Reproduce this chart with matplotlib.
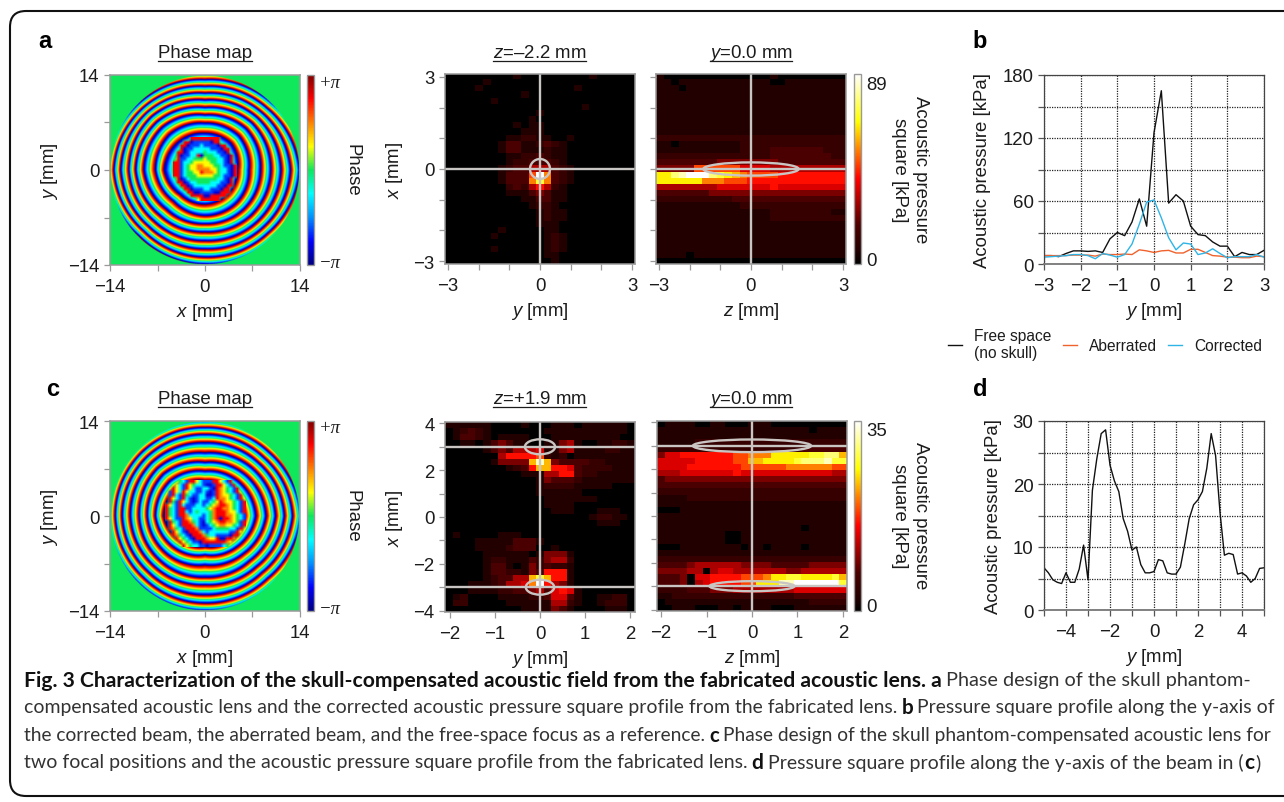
import numpy as np
import matplotlib
matplotlib.use("Agg")
import matplotlib.pyplot as plt
from matplotlib.colors import LinearSegmentedColormap, Normalize
from matplotlib.lines import Line2D
from matplotlib.patches import Ellipse, FancyBboxPatch
from matplotlib.transforms import IdentityTransform

plt.rcParams["font.family"] = ["Liberation Sans", "DejaVu Sans"]
plt.rcParams["mathtext.fontset"] = "custom"
plt.rcParams["mathtext.rm"] = "Liberation Sans"
plt.rcParams["mathtext.it"] = "Liberation Sans:italic"

W, H = 1284, 803
FS = 13.4
INK = "#1c1c1c"
FRAME = "#9a9a9a"
OVERLAY = "#c9c5c3"

# ------------------------------------------------------------------ line profiles
B_Y = [-3.0, -2.8, -2.6, -2.4, -2.2, -2.0, -1.8, -1.6, -1.4, -1.2, -1.0, -0.8, -0.6, -0.4, -0.2, 0.0,
       0.2, 0.4, 0.6, 0.8, 1.0, 1.2, 1.4, 1.6, 1.8, 2.0, 2.2, 2.4, 2.6, 2.8, 3.0]
B_FREE = [8, 8, 7, 10, 12.5, 12.5, 12, 12.5, 11, 24, 30, 27, 40, 62, 36, 125,
          165, 58, 66, 60, 36, 28, 27, 21, 17, 17, 7, 11, 9, 9, 13]
B_ABERRATED = [8, 8, 8, 8, 8.5, 8.5, 8.5, 7.5, 9.5, 9, 9, 9.5, 9, 13.5, 12.5, 11,
               12.5, 13, 10.5, 10.5, 14, 14, 11, 8, 7.5, 6.5, 6.5, 6, 6, 7.5, 7]
B_CORRECTED = [6.5, 7, 7.5, 8, 9, 9, 8, 5, 10, 8.5, 6.5, 9, 19, 38, 59, 61,
               44, 25, 13.5, 20, 19, 9, 10.5, 14.5, 10, 6, 7, 7, 7, 9, 6.5]

D_Y = [-5.0, -4.8, -4.6, -4.4, -4.2, -4.0, -3.8, -3.6, -3.4, -3.2, -3.0, -2.8, -2.6, -2.4, -2.2, -2.0,
       -1.8, -1.6, -1.4, -1.2, -1.0, -0.8, -0.6, -0.4, -0.2, 0.0, 0.2, 0.4, 0.6, 0.8, 1.0, 1.2, 1.4,
       1.6, 1.8, 2.0, 2.2, 2.4, 2.6, 2.8, 3.0, 3.2, 3.4, 3.6, 3.8, 4.0, 4.2, 4.4, 4.6, 4.8, 5.0]
D_P = [6.7, 5.9, 4.8, 4.4, 4.2, 5.9, 4.4, 4.4, 6.5, 10.3, 4.8, 19, 24, 28, 28.6, 23,
       20.5, 18.8, 14.5, 12.5, 9.5, 10, 7.2, 5.9, 5.9, 6.1, 8, 7.8, 5.9, 5.7, 5.7, 6.8, 10.5,
       14.5, 16.7, 17.5, 18.8, 22.5, 28, 24.5, 15.5, 8.7, 9, 8.8, 5.7, 5.9, 5.4, 4.4, 5, 6.6, 6.7]

# ------------------------------------------------------------------ pressure maps, one hex digit per cell
HEAT_A_MID = [
    "00000 00001 00000 00001 00000", "00000 10000 00000 00000 00000", "00001 00000 00000 00100 00000",
    "00000 00000 10000 00000 00000", "00000 01000 00000 00000 00000", "00000 00000 00000 00010 00000",
    "00000 00000 00100 00000 00000", "00000 00000 01000 00000 00000", "00000 00001 01100 00000 00000",
    "00000 00000 11100 00000 00000", "00000 00011 22110 01000 00000", "00000 00133 11232 10000 00000",
    "00000 00133 11121 10000 00000", "00000 00011 22321 10000 00000", "00000 00012 23332 10000 00000",
    "00000 00123 35553 21000 00000", "00000 00133 38f93 21000 00000", "00000 00133 39c93 21000 00000",
    "00000 00023 25752 10000 00000", "00000 00011 13431 10000 00000", "00000 00000 11331 10000 00000",
    "00000 00000 01221 00000 00000", "00000 00000 00121 10000 00000", "00000 00000 00121 10000 00000",
    "00000 00000 00111 00000 00000", "00000 00100 00011 00000 00000", "00000 01000 00012 10000 00000",
    "00000 00000 00012 10000 00000", "00000 01000 00012 10000 00000", "00000 00000 00011 00000 00000",
    "00000 00000 00001 00000 00000",
]
HEAT_A_RIGHT = [
    "10000 00000 00000 10000 00000", "11011 11111 11111 00111 11111", "11101 11111 11111 11111 11111",
    "11111 11111 11111 11111 11111", "11111 11111 11111 11111 11111", "11111 11111 11111 11111 11111",
    "11111 11111 11111 11111 11111", "11111 11111 11111 11111 11111", "11111 11111 11111 11111 11111",
    "11111 11111 11111 11111 11111", "22222 22222 22222 22222 22222", "11011 11111 12222 22222 22222",
    "11111 11111 12222 33333 33222", "22222 22222 22222 33333 33322", "33333 33344 44444 43333 33333",
    "44444 88888 86666 55555 55555", "bbdef ffdcb a9888 87777 77777", "bbbbb b9998 88777 77777 77777",
    "55555 55566 66666 76666 66666", "33333 33444 44444 44444 44444", "22222 22222 33333 33333 33333",
    "11111 11111 12222 22222 22222", "11111 11111 11111 22222 22211", "11111 11111 11111 22222 22222",
    "11111 11111 11111 11111 11111", "11111 11111 11111 11111 11111", "11111 11111 11111 11111 11111",
    "11111 11111 11111 11111 11111", "11111 11111 11111 11111 11111", "11110 11111 11111 11111 11111",
    "00000 00000 00000 00000 00000",
]
HEAT_C_MID = [
    "11111 10000 10001 11011 11110", "01232 10000 00011 11111 11110", "01332 10111 10001 11111 11100",
    "00110 13431 10011 45100 11221", "00000 13435 55611 45111 12211", "00000 00577 77821 20111 11111",
    "00000 01444 4aea4 33332 21111", "00000 00012 37aa7 76322 22111", "00000 00000 11155 77322 11111",
    "00000 00000 00143 33211 11111", "00000 00000 00122 22111 11000", "00000 00000 00111 11100 00000",
    "00000 00000 00011 11111 00000", "00000 00000 00011 11000 00000", "00000 00000 00001 11000 11100",
    "00000 00000 00000 00001 22110", "00000 00000 00000 00000 11100", "00000 00000 00000 00000 00000",
    "01000 00111 00000 00000 00000", "00001 11113 33100 00000 00000", "00001 11123 33001 00000 00000",
    "00000 11111 10144 41000 00000", "00000 12211 13245 52000 00000", "00000 13310 14232 21000 00000",
    "00000 13322 14377 71000 00000", "00000 12335 5aca7 71000 00000", "00011 12355 69f75 41000 00000",
    "00011 11223 34536 76100 00000", "01200 00111 12236 63100 11220", "02200 00011 11115 52100 12220",
    "00000 00000 11114 31000 01110",
]
HEAT_C_RIGHT = [
    "01111 00110 00111 00000 00000", "11111 11111 11111 11111 01111", "11111 11111 11111 11111 11111",
    "11111 22222 22222 22222 22222", "22222 22222 22222 22223 33333", "46677 77777 88999 bbbbb ccdda",
    "66666 77777 88aab bbbcd ddecc", "66667 77777 78888 88999 99988", "55566 66666 76666 66666 66655",
    "34444 44444 44444 44444 44444", "33333 33333 33333 33333 33333", "22222 22222 22222 22222 22222",
    "11112 22222 22222 22222 22222", "11111 11111 11111 11111 11111", "00011 11111 11111 11111 11111",
    "11111 11111 11111 11111 11111", "11111 11111 11111 11111 11111", "11111 11111 11111 11110 11111",
    "11111 11110 01111 11111 11111", "11111 11110 01111 11111 11111", "00011 11111 10110 11110 11111",
    "11111 11111 11111 11111 11111", "22222 22222 22222 22222 22222", "33334 55555 54444 33333 44444",
    "44445 50566 55555 55445 55555", "33340 66777 78889 bbccb bbbca", "33340 56777 788bb beeff ffffc",
    "22223 33444 55555 55566 66666", "11222 22222 22222 22233 33333", "01111 11111 11111 11111 22222",
    "00111 00011 01111 00011 11111",
]

# ------------------------------------------------------------------ phase maps: radius [mm] of each blue/red
# boundary, read along eight directions (E, NE, N, NW, W, SW, S, SE)
RINGS_A_E = [2.7, 4.9, 6.6, 8.3, 9.8, 11.3, 12.7, 14.0, 15.3, 16.6]
RINGS_A_NE = [3.2, 5.6, 7.2, 8.7, 9.9, 11.0, 12.0, 13.0, 14.0, 15.0]
RINGS_A_N = [3.8, 5.5, 7.0, 8.2, 9.3, 10.4, 11.4, 12.4, 13.4, 14.4]
RINGS_A_NW = [3.6, 5.8, 7.5, 9.0, 10.1, 11.2, 12.1, 13.0, 13.9, 14.8]
RINGS_A_W = [3.4, 6.1, 7.4, 9.1, 10.3, 11.3, 12.5, 13.5, 14.5, 15.5]
RINGS_A_SW = [3.2, 5.2, 6.6, 8.2, 9.5, 10.7, 11.8, 12.8, 13.8, 14.8]
RINGS_A_S = [3.6, 5.1, 6.8, 8.0, 9.2, 10.5, 11.7, 12.9, 13.9, 14.9]
RINGS_A_SE = [3.2, 5.0, 6.8, 8.2, 9.6, 10.9, 12.1, 13.2, 14.3, 15.4]

RINGS_C_E = [5.9, 7.6, 9.1, 10.5, 11.8, 13.0, 14.2, 15.4]
RINGS_C_NE = [5.6, 7.2, 8.6, 10.0, 11.2, 12.3, 13.4, 14.5]
RINGS_C_N = [5.3, 6.7, 8.0, 9.4, 10.9, 12.1, 13.1, 14.1]
RINGS_C_NW = [6.0, 7.4, 8.8, 10.0, 11.2, 12.3, 13.3, 14.3]
RINGS_C_W = [6.2, 7.4, 8.6, 9.8, 11.1, 12.3, 13.3, 14.3]
RINGS_C_SW = [5.2, 6.6, 8.0, 9.4, 10.6, 11.8, 12.9, 14.0]
RINGS_C_S = [4.6, 5.8, 7.3, 9.1, 10.2, 11.7, 12.9, 14.0]
RINGS_C_SE = [5.2, 6.6, 8.0, 9.4, 10.7, 11.9, 13.1, 14.3]

# irregular centres of the phase maps, about 0.5 mm cells; "." leaves the ring pattern visible
CORE_A = [
    ".....RRRRRRRRR.....",
    "...RRDBBBBBDRR.....",
    "..RRDBBBCBBBBDRR...",
    "..RDBBCCCCCBBBDRR..",
    ".RRDBCCCCGCCCBBDR..",
    ".RDBBCCRDGGGCCBBDR.",
    ".RBBCCGGGYGGGCCBDR.",
    "RRBCCGYYYYYGGCCBDR.",
    "RRBCGYYOOYYYGGCBBDR",
    "RRBCGYYOOOOYYGCCBDR",
    "RRBCGGYYROOOYGCCBDR",
    "RRBCGGGYYYYYGGCBBDR",
    ".RDBCGGGGGGGGCCBDR.",
    ".RRDBCCGGGGCCCBBDR.",
    "..RRDBCCCCCCCBBDRR.",
    "...RRDBBBCCBBBDRR..",
    "....RRDDBBBBDDRRR..",
    ".....RRRRDDRRRRR...",
    ".......YRRRRRR.....",
]
CORE_C = [
    "....GCBRRYCBBBRRYCBR....",
    "...YCBRYGCCBDDBRRYCBR...",
    "..RYCBRYCBBCCBDROYGCBR..",
    ".BRYCRYCCBBCBDBROYGCBR..",
    ".BRCBRGCBBCCDDBROYYGCBR.",
    ".RYCBRCBDBCCBBCROOYGCBR.",
    ".RGBRYCBDBCBBCGYROYYGCBR",
    "RYCBRCBBBCCBCGYORROYGCBR",
    "RGCBRRBBCCCCGYORROOYGCBR",
    "RGCBRRCBCGCCCGORRROYYCBR",
    "RGCBRROCCCCBCGORRROOYGCB",
    "RYCBBROYCCBBCGORDRROYGCB",
    ".RGCBRROGCBDCGYORROOYGBR",
    ".RYCBRRROCBDBCGYOOYYGCBR",
    ".ROGCBRRROBBBBCGGGGCCBR.",
    "..RYCBDRRROCBCCCCCCBBRY.",
    "..ROGCBDRRROGCCBBBBDRR..",
    "...RYGCBDRRROYYRDDRRO...",
    "....RYGCBBDRRRRRRROY....",
    ".....RYGCCBBDBBBBCG.....",
]
CORE_PHASE = {"R": 2.36, "O": 1.57, "Y": 0.79, "G": 0.0, "C": -0.79, "B": -2.0, "D": -2.6}

CAPTION = [
    [("Fig. 3 Characterization of the skull-compensated acoustic field from the fabricated acoustic lens. a", True),
     ("Phase design of the skull phantom-", False)],
    [("compensated acoustic lens and the corrected acoustic pressure square profile from the fabricated lens.", False),
     ("b", True), ("Pressure square profile along the y-axis of", False)],
    [("the corrected beam, the aberrated beam, and the free-space focus as a reference.", False), ("c", True),
     ("Phase design of the skull phantom-compensated acoustic lens for", False)],
    [("two focal positions and the acoustic pressure square profile from the fabricated lens.", False), ("d", True),
     ("Pressure square profile along the y-axis of the beam in (", False), ("c", True), (")", False)],
]
CAPTION_Y = [681, 708, 736, 763]
CAPTION_END = [1253, 1279, 1279, 1264]

HEAT_CMAP = LinearSegmentedColormap.from_list(
    "heat", [(0, "#000000"), (0.07, "#240000"), (0.2, "#4a0000"), (0.45, "#ff0000"), (0.75, "#ffff00"), (1, "#ffffff")])
PHASE_CMAP = LinearSegmentedColormap.from_list(
    "phase", ["#00007f", "#0000ff", "#0090ff", "#00ffff", "#0ce85c", "#ffff00", "#ff8000", "#ff0000", "#7f0000"])
PHASE_NORM = Normalize(-np.pi, np.pi)

fig = plt.figure(figsize=(W / 100, H / 100), dpi=100, facecolor="white")


def add_axes(x0, y0, x1, y1):
    # pixel box, y measured from the top as in the reference
    return fig.add_axes([x0 / W, 1 - y1 / H, (x1 - x0) / W, (y1 - y0) / H])


def put(x, y, s, **kw):
    kw.setdefault("fontsize", FS)
    kw.setdefault("color", INK)
    kw.setdefault("ha", "center")
    kw.setdefault("va", "center")
    return fig.text(x / W, 1 - y / H, s, **kw)


def title(cx, y, s, x0, x1):
    put(cx, y, s)
    fig.add_artist(Line2D([x0 / W, x1 / W], [1 - (y + 8) / H] * 2, color=INK, lw=0.9))


def style_map(ax, xticks, xlabels, yticks, ylabels):
    ax.set_xticks(xticks, xlabels)
    ax.set_yticks(yticks, ylabels)
    ax.tick_params(length=4.5, width=0.9, color=FRAME, labelsize=FS, labelcolor=INK, pad=3)
    ax.tick_params(axis="x", pad=5)
    for sp in ax.spines.values():
        sp.set_color(FRAME)
        sp.set_linewidth(1.1)


def colorbar(x0, y0, x1, y1, cmap, norm):
    cax = add_axes(x0, y0, x1, y1)
    sm = plt.cm.ScalarMappable(norm=norm, cmap=cmap)
    cb = fig.colorbar(sm, cax=cax)
    cb.set_ticks([])
    cb.outline.set_edgecolor(FRAME)
    cb.outline.set_linewidth(1.0)


def phase_field(ring_dirs, size=760):
    radii = np.array(ring_dirs, dtype=float)
    angles = np.arange(8) * np.pi / 4
    lin = np.linspace(-14, 14, size)
    xx, yy = np.meshgrid(lin, lin[::-1])
    r = np.hypot(xx, yy)
    th = np.mod(np.arctan2(yy, xx), 2 * np.pi)
    bounds = [np.interp(th, angles, radii[:, k], period=2 * np.pi) for k in range(radii.shape[1])]
    phase = np.zeros_like(r)
    inner = r < bounds[0]
    phase[inner] = 0.6 - (0.6 + np.pi) * r[inner] / bounds[0][inner]
    for lo, hi in zip(bounds[:-1], bounds[1:]):
        band = (r >= lo) & (r < hi)
        phase[band] = np.pi - 2 * np.pi * (r[band] - lo[band]) / (hi[band] - lo[band])
    phase[r > 13.9] = 0.0
    return phase


def phase_panel(x0, y0, ring_dirs, core, core_extent):
    ax = add_axes(x0, y0, x0 + 190, y0 + 190)
    ax.imshow(phase_field(ring_dirs), extent=(-14, 14, -14, 14), cmap=PHASE_CMAP, norm=PHASE_NORM,
              interpolation="bilinear", interpolation_stage="rgba", aspect="auto")
    vals = np.array([[CORE_PHASE.get(c, 0.0) for c in row] for row in core])
    rgba = PHASE_CMAP(PHASE_NORM(vals))
    rgba[..., 3] = [[0.0 if c == "." else 1.0 for c in row] for row in core]
    ax.imshow(rgba, extent=core_extent, interpolation="bilinear", interpolation_stage="rgba", aspect="auto")
    ax.set_xlim(-14, 14)
    ax.set_ylim(-14, 14)
    style_map(ax, [-14, -7, 0, 7, 14], ["\u221214", "", "0", "", "14"],
              [-14, -7, 0, 7, 14], ["\u221214", "", "0", "", "14"])
    ax.set_xlabel(r"$x$ [mm]", fontsize=FS, color=INK, labelpad=4.5)
    ax.set_ylabel(r"$y$ [mm]", fontsize=FS, color=INK, labelpad=6)
    colorbar(x0 + 197, y0, x0 + 204, y0 + 190, PHASE_CMAP, PHASE_NORM)
    pi_font = dict(family="Liberation Serif", style="italic", ha="left", fontsize=FS)
    put(x0 + 209, y0 + 7, "+\u03c0", **pi_font)
    put(x0 + 209, y0 + 187, "\u2212\u03c0", **pi_font)
    put(x0 + 242, y0 + 94, "Phase", rotation=-90)
    return ax


def heat_panel(box, rows, xlim, ylim, xticks, xlabels, yticks, ylabels, xlabel, ylabel=None):
    ax = add_axes(*box)
    grid = np.array([[int(c, 16) for c in row.replace(" ", "")] for row in rows]) / 15.0
    ax.imshow(grid, extent=(*xlim, *ylim), cmap=HEAT_CMAP, vmin=0, vmax=1,
              interpolation="nearest", aspect="auto")
    style_map(ax, xticks, xlabels, yticks, ylabels)
    ax.set_xlabel(xlabel, fontsize=FS, color=INK, labelpad=4.5)
    if ylabel:
        ax.set_ylabel(ylabel, fontsize=FS, color=INK, labelpad=6)
    return ax


def overlay(ax, hlines, ellipses):
    ax.axvline(0, color=OVERLAY, lw=1.7)
    for y in hlines:
        ax.axhline(y, color=OVERLAY, lw=1.7)
    for cy, w, h in ellipses:
        ax.add_patch(Ellipse((0, cy), w, h, fill=False, edgecolor=OVERLAY, lw=1.7))


def profile_axes(box, xlim, ylim, xticks, xlabels, ygrid, ylabels):
    ax = add_axes(*box)
    ax.set_xlim(*xlim)
    ax.set_ylim(*ylim)
    ax.set_xticks(xticks, xlabels)
    ax.set_yticks(ygrid, ylabels)
    ax.grid(True, color="#222222", ls=(0, (1, 1)), lw=0.9)
    ax.set_axisbelow(True)
    ax.tick_params(length=4.5, width=0.9, color="#555555", labelsize=FS, labelcolor=INK, pad=3)
    ax.tick_params(axis="x", pad=5)
    for sp in ax.spines.values():
        sp.set_color("#444444")
        sp.set_linewidth(0.9)
    ax.spines["bottom"].set_color("#777777")
    ax.spines["bottom"].set_linewidth(1.3)
    ax.set_xlabel(r"$y$ [mm]", fontsize=FS, color=INK, labelpad=4.5)
    ax.set_ylabel("Acoustic pressure [kPa]", fontsize=FS, color=INK, labelpad=8)
    return ax


def caption_line(y, runs, scale):
    renderer = fig.canvas.get_renderer()
    x = 24
    placed = []
    for i, (s, bold) in enumerate(runs):
        t = put(x, y, s, ha="left", family="Lato", fontsize=(15.0 if bold else 14.1) * scale,
                fontweight="bold" if bold else "normal", color="#111111" if bold else "#333333")
        placed.append(t)
        tight = s.endswith("(") or (i + 1 < len(runs) and runs[i + 1][0] == ")")
        x = t.get_window_extent(renderer).x1 + (1 if tight else 4)
    return placed, x


def caption():
    # first pass measures the line, second pass sizes it to end where the reference line ends
    for y, runs, end in zip(CAPTION_Y, CAPTION, CAPTION_END):
        placed, x = caption_line(y, runs, 1.0)
        for t in placed:
            t.remove()
        caption_line(y, runs, (end - 24) / (x - 4 - 24))


# ------------------------------------------------------------------ page
fig.add_artist(FancyBboxPatch((10, 6), 1320, 785, boxstyle="round,pad=0,rounding_size=16",
                              transform=IdentityTransform(), fill=False, edgecolor="#111111", lw=1.5))
for x, y, s in [(45, 42, "a"), (980, 41, "b"), (53, 390, "c"), (980, 390, "d")]:
    put(x, y, s, fontsize=17, fontweight="bold", color="black")

# a
phase_panel(110, 76, [RINGS_A_E, RINGS_A_NE, RINGS_A_N, RINGS_A_NW, RINGS_A_W, RINGS_A_SW, RINGS_A_S, RINGS_A_SE],
            CORE_A, (-4.67, 4.67, -4.5, 4.9))
title(205, 54, "Phase map", 158, 252)
lab3 = ["\u22123", "", "", "0", "", "", "3"]
ticks3 = list(range(-3, 4))
ax = heat_panel((445, 75, 635, 265), HEAT_A_MID, (-3.09, 3.09), (-3.09, 3.09), ticks3, lab3, ticks3, lab3,
                r"$y$ [mm]", r"$x$ [mm]")
overlay(ax, [0], [(0, 0.65, 0.65)])
title(540, 54, "$z$=\u20132.2 mm", 493, 586)
ax = heat_panel((656, 75, 846, 265), HEAT_A_RIGHT, (-3.09, 3.09), (-3.09, 3.09), ticks3, lab3, ticks3, [""] * 7,
                r"$z$ [mm]")
overlay(ax, [0], [(0, 3.1, 0.43)])
title(751, 54, r"$y$=0.0 mm", 710, 792)
colorbar(854, 75, 861, 265, HEAT_CMAP, Normalize(0, 1))
put(866, 86, "89", ha="left")
put(866, 262, "0", ha="left")
put(910, 170, "Acoustic pressure\nsquare [kPa]", rotation=-90, linespacing=1.25)

# b
ax = profile_axes((1044, 76, 1264, 265), (-3, 3), (0, 180), [-3, -2, -1, 0, 1, 2, 3],
                  ["\u22123", "\u22122", "\u22121", "0", "1", "2", "3"],
                  [0, 30, 60, 90, 120, 150, 180], ["0", "", "60", "", "120", "", "180"])
h1, = ax.plot(B_Y, B_FREE, color="#111111", lw=1.0, label="Free space\n(no skull)")
h2, = ax.plot(B_Y, B_ABERRATED, color="#f0622d", lw=1.0, label="Aberrated")
h3, = ax.plot(B_Y, B_CORRECTED, color="#2fb4e6", lw=1.0, label="Corrected")
fig.legend(handles=[h1, h2, h3], loc="center", bbox_to_anchor=(1105 / W, 1 - 345 / H), ncol=3, frameon=False,
           fontsize=11.2, handlelength=0.9, handletextpad=0.8, columnspacing=0.7, labelcolor=INK)

# c
phase_panel(110, 422, [RINGS_C_E, RINGS_C_NE, RINGS_C_N, RINGS_C_NW, RINGS_C_W, RINGS_C_SW, RINGS_C_S, RINGS_C_SE],
            CORE_C, (-5.9, 5.9, -4.6, 5.2))
title(205, 400, "Phase map", 158, 252)
lab2 = ["\u22122", "\u22121", "0", "1", "2"]
lab4 = ["\u22124", "", "\u22122", "", "0", "", "2", "", "4"]
ax = heat_panel((445, 423, 635, 613), HEAT_C_MID, (-2.11, 2.11), (-4.06, 4.06), [-2, -1, 0, 1, 2], lab2,
                list(range(-4, 5)), lab4, r"$y$ [mm]", r"$x$ [mm]")
overlay(ax, [3, -3], [(3, 0.67, 0.64), (-3, 0.63, 0.64)])
title(540, 400, "$z$=+1.9 mm", 493, 586)
ax = heat_panel((657, 422, 847, 612), HEAT_C_RIGHT, (-2.09, 2.09), (-4.06, 4.06), [-2, -1, 0, 1, 2], lab2,
                list(range(-4, 5)), [""] * 9, r"$z$ [mm]")
overlay(ax, [3, -3], [(3, 2.6, 0.54), (-3, 1.87, 0.43)])
title(751, 400, r"$y$=0.0 mm", 710, 792)
colorbar(854, 422, 861, 612, HEAT_CMAP, Normalize(0, 1))
put(866, 432, "35", ha="left")
put(866, 607, "0", ha="left")
put(910, 516, "Acoustic pressure\nsquare [kPa]", rotation=-90, linespacing=1.25)

# d
ax = profile_axes((1044, 422, 1264, 611), (-5, 5), (0, 30), list(range(-5, 6)),
                  ["", "\u22124", "", "\u22122", "", "0", "", "2", "", "4", ""],
                  [0, 5, 10, 15, 20, 25, 30], ["0", "", "10", "", "20", "", "30"])
ax.plot(D_Y, D_P, color="#111111", lw=1.0)

caption()
fig.savefig("out.png", dpi=100)
